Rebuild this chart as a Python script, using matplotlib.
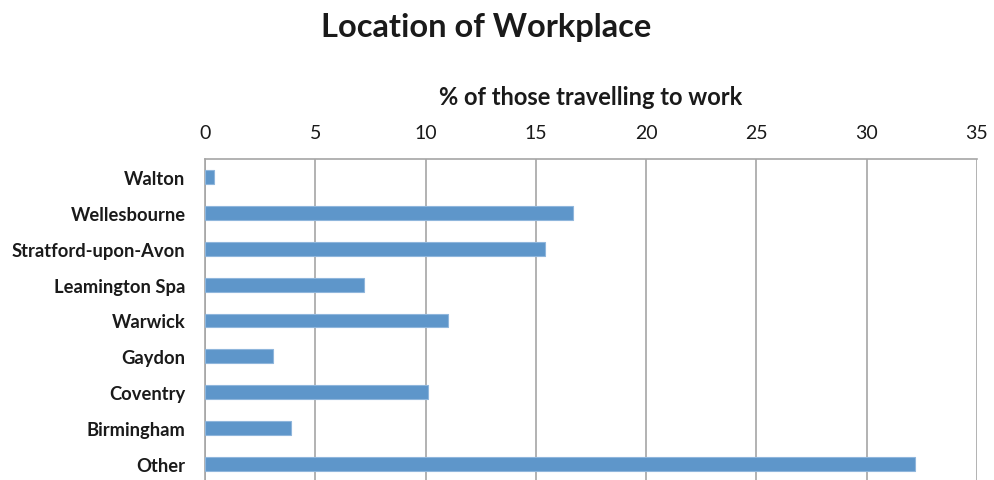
import matplotlib
matplotlib.use("Agg")
import matplotlib.pyplot as plt

categories = ["Walton", "Wellesbourne", "Stratford-upon-Avon", "Leamington Spa",
              "Warwick", "Gaydon", "Coventry", "Birmingham", "Other"]
values = [0.4, 16.7, 15.4, 7.2, 11.0, 3.1, 10.1, 3.9, 32.2]
xticks = [0, 5, 10, 15, 20, 25, 30, 35]

plt.rcParams['font.family'] = ['Lato', 'DejaVu Sans']

W, H = 994, 481
fig = plt.figure(figsize=(W/100, H/100), dpi=100)
left, right, top, bottom = 205, 977, 160, 483
ax = fig.add_axes([left/W, 1 - bottom/H, (right-left)/W, (bottom-top)/H])

ypos = list(range(len(categories)))
ax.barh(ypos, values, height=0.39, color="#5E96CA", edgecolor="#8FB6DC",
        linewidth=0.8, zorder=3)
ax.set_ylim(len(categories) - 0.5, -0.5)
ax.set_xlim(0, 35)
ax.set_xticks(xticks)
ax.set_xticklabels([str(t) for t in xticks])
ax.set_yticks(ypos)
ax.set_yticklabels(categories, fontweight="bold", fontsize=13.2, color="#1a1a1a")

ax.xaxis.tick_top()
ax.xaxis.set_label_position("top")
ax.tick_params(axis="x", length=0, pad=13, labelsize=14, labelcolor="#1a1a1a")
ax.tick_params(axis="y", length=0, pad=14)
ax.grid(axis="x", color="#A6A6A6", linewidth=1.2, zorder=0)
for s in ["right", "bottom"]:
    ax.spines[s].set_visible(False)
ax.spines["top"].set_color("#A6A6A6")
ax.spines["top"].set_linewidth(1.2)
ax.spines["left"].set_color("#A6A6A6")
ax.spines["left"].set_linewidth(1.2)

ax.set_xlabel("% of those travelling to work", fontweight="bold", fontsize=17,
              labelpad=14, color="#1a1a1a")
fig.text(486/W, 1 - 28/H, "Location of Workplace", ha="center", va="center",
         fontweight="bold", fontsize=23.5, color="#1a1a1a")

fig.savefig("out.png", dpi=100)
